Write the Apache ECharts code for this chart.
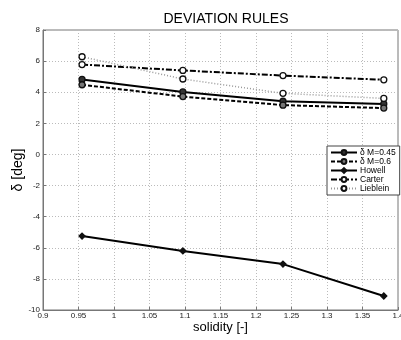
<!DOCTYPE html>
<html><head><meta charset="utf-8">
<script src="https://cdn.jsdelivr.net/npm/echarts@6/dist/echarts.min.js"></script>
<style>html,body{margin:0;padding:0;background:#fff}#c{width:401px;height:340px}</style>
</head><body><div id="c"></div>
<script>
var solidity = [0.955, 1.097, 1.238, 1.38];
var deltaM045 = [4.82, 4.02, 3.42, 3.25];
var deltaM06 = [4.48, 3.72, 3.17, 2.98];
var howell = [-5.25, -6.2, -7.05, -9.1];
var carter = [5.78, 5.4, 5.07, 4.8];
var lieblein = [6.28, 4.85, 3.93, 3.6];
var seriesNames = ['\u03b4 M=0.45', '\u03b4 M=0.6', 'Howell', 'Carter', 'Lieblein'];

function pairs(v){ return solidity.map(function(x,i){return [x, v[i]];}); }
function fmt(v){ return String(parseFloat(v.toFixed(2))); }

var chart = echarts.init(document.getElementById('c'), null, {renderer:'canvas'});
var F = 'Liberation Sans, Arial, sans-serif';
function mk(name, data, lineType, color, width, fill, symbol){
  return {name:name, type:'line', data:pairs(data), symbol:symbol||'circle', symbolSize:6,
    lineStyle:{type:lineType, color:color, width:width},
    itemStyle:{color:fill, borderColor:'#111', borderWidth:1.3},
    emphasis:{disabled:true}, animation:false};
}
chart.setOption({
  animation:false,
  title:{text:'DEVIATION RULES', left:221, textAlign:'center', top:7,
    textStyle:{fontFamily:F, fontSize:14, fontWeight:'normal', color:'#000'}},
  grid:{left:43, right:3, top:30, bottom:30, outerBoundsMode:'none', containLabel:false,
    show:true, borderColor:'#777', borderWidth:1, backgroundColor:'rgba(0,0,0,0)'},
  xAxis:{type:'value', min:0.9, max:1.4, interval:0.05,
    name:'solidity [-]', nameLocation:'middle', nameGap:11, nameMoveOverlap:false,
    nameTextStyle:{fontFamily:F, fontSize:13, color:'#000'},
    axisLine:{show:true, onZero:false, lineStyle:{color:'#777'}},
    axisTick:{inside:true, length:3, lineStyle:{color:'#777'}},
    axisLabel:{fontFamily:F, fontSize:8, color:'#222', margin:2, formatter:fmt},
    splitLine:{show:true, lineStyle:{type:[1,2], color:'#bbb'}}},
  yAxis:{type:'value', min:-10, max:8, interval:2,
    name:'\u03b4 [deg]', nameLocation:'middle', nameGap:18, nameMoveOverlap:false,
    nameTextStyle:{fontFamily:F, fontSize:14, color:'#000'},
    axisLine:{show:true, onZero:false, lineStyle:{color:'#777'}},
    axisTick:{inside:true, length:3, lineStyle:{color:'#777'}},
    axisLabel:{fontFamily:F, fontSize:8, color:'#222', margin:3},
    splitLine:{show:true, lineStyle:{type:[1,2], color:'#bbb'}}},
  legend:{orient:'vertical', left:327, top:146, data:seriesNames,
    backgroundColor:'#fff', borderColor:'#444', borderWidth:1, padding:[2,4,2,3],
    itemGap:0, itemWidth:26, itemHeight:6,
    textStyle:{fontFamily:F, fontSize:8.5, color:'#000', padding:[0,0,0,-2]}},
  series:[
    mk(seriesNames[0], deltaM045, 'solid', '#000', 2, '#333'),
    mk(seriesNames[1], deltaM06, [4,2], '#000', 2, '#777'),
    mk(seriesNames[2], howell, 'solid', '#000', 2, '#111', 'diamond'),
    mk(seriesNames[3], carter, [6,2,2,2], '#000', 2, '#fff'),
    mk(seriesNames[4], lieblein, [1,2], '#999', 1.5, '#fff')
  ]
});
</script></body></html>
